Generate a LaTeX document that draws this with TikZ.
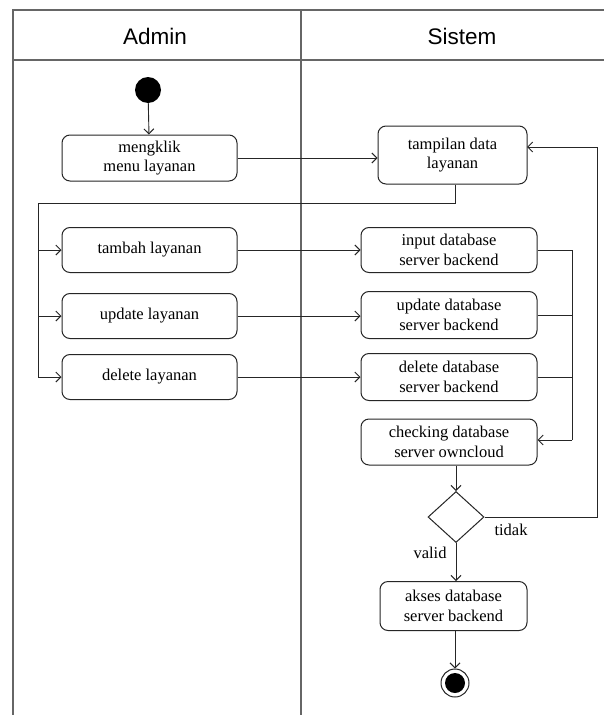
\documentclass[tikz,border=0pt]{standalone}
\usepackage{fontspec}
\setmainfont{Liberation Serif}
\newfontfamily\headfont{Liberation Sans}
\usetikzlibrary{arrows.meta,shapes.geometric}
\tikzset{
  lane/.style={draw=black!60, line width=1.3pt},
  act/.style={draw=black!85, line width=1pt, rounded corners=8pt, fill=white,
    align=center, font=\fontsize{16.5}{19.5}\selectfont, inner sep=2pt},
  flow/.style={draw=black!85, line width=0.9pt},
  arr/.style={flow, -{Straight Barb[length=5pt,width=10pt,line width=1pt]}},
  lbl/.style={font=\fontsize{16.5}{19.5}\selectfont},
  hdr/.style={font=\headfont\fontsize{22.5}{26}\selectfont}
}
\begin{document}
\begin{tikzpicture}[x=1pt,y=-1pt]
\useasboundingbox (0,0) rectangle (604,715);
\fill[white] (0,0) rectangle (604,715);
\begin{scope}
\clip (0,0) rectangle (604,715);
% swimlane frame
\draw[lane] (13,718) -- (13,10) -- (610,10);
\draw[lane] (13,60) -- (610,60);
\draw[lane] (301,10) -- (301,718);
\end{scope}
\node[hdr] (hA) at (155,36) {Admin};
\node[hdr] (hS) at (462,36) {Sistem};

% start node
\node[circle, fill=black, minimum size=26pt, inner sep=0] (start) at (148,90) {};

% Admin activities
\node[act, minimum width=175pt, minimum height=46pt] (klik) at (149.5,158) {mengklik\\menu layanan};
\node[act, minimum width=175pt, minimum height=45pt] (tambah) at (149.5,250) {tambah layanan};
\node[act, minimum width=175pt, minimum height=45pt] (upd) at (149.5,316) {update layanan};
\node[act, minimum width=175pt, minimum height=45pt] (del) at (149.5,377) {delete layanan};

% Sistem activities
\node[act, minimum width=149pt, minimum height=58pt] (tamp) at (452.5,155) {tampilan data\\layanan};
\node[act, minimum width=176pt, minimum height=45pt] (inp) at (449,250) {input database\\server backend};
\node[act, minimum width=176pt, minimum height=47pt] (updb) at (449,315) {update database\\server backend};
\node[act, minimum width=176pt, minimum height=47pt] (delb) at (449,377) {delete database\\server backend};
\node[act, minimum width=176pt, minimum height=46pt] (chk) at (449,442) {checking database\\server owncloud};
\node[diamond, draw=black!85, line width=1pt, fill=white, minimum width=56pt,
  minimum height=51pt, inner sep=0] (dec) at (456,517) {};
\node[act, minimum width=147pt, minimum height=49pt] (akses) at (453.5,606) {akses database\\server backend};

% final node
\node[circle, draw=black!85, line width=1pt, fill=white, minimum size=28pt, inner sep=0] (stop) at (455,683) {};
\node[circle, fill=black, minimum size=20pt, inner sep=0] (stopin) at (stop) {};

% junction points
\coordinate (sR) at (455,203);
\coordinate (sL) at (38,203);
\coordinate (sB) at (38,377);
\coordinate (mX) at (572,250);
\coordinate (mB) at (572,440);
\coordinate (lR) at (597,517);
\coordinate (lT) at (597,147);
\coordinate (tIn) at (527,147);

% flows
\draw[arr] (start) -- (klik);
\draw[arr] (klik.east) -- (klik.east -| tamp.west);
\draw[flow] (sR |- tamp.south) -- (sR) -- (sL) -- (sB);
\draw[arr] (sL |- tambah.west) -- (tambah.west);
\draw[arr] (sL |- upd.west) -- (upd.west);
\draw[arr] (sB) -- (del.west);
\draw[arr] (tambah.east) -- (tambah.east -| inp.west);
\draw[arr] (upd.east) -- (upd.east -| updb.west);
\draw[arr] (del.east) -- (del.east -| delb.west);
\draw[flow] (inp.east) -- (mX) -- (mB);
\draw[flow] (updb.east) -- (updb.east -| mX);
\draw[flow] (delb.east) -- (delb.east -| mX);
\draw[arr] (mB) -- (mB -| chk.east);
\draw[arr] (chk.south -| dec.north) -- (dec.north);
\draw[flow] (dec.east) -- (lR) -- (lT);
\draw[arr] (lT) -- (tIn);
\draw[arr] (dec.south) -- (dec.south |- akses.north);
\draw[arr] (akses.south -| stop.north) -- (stop.north);

% guard labels
\node[lbl] (tidak) at (511,530) {tidak};
\node[lbl] (valid) at (430,553) {valid};
\end{tikzpicture}
\end{document}
